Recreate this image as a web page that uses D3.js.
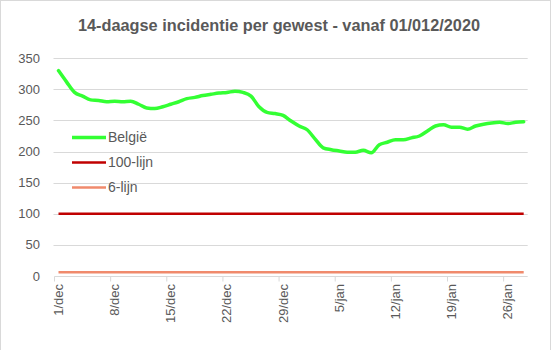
<!DOCTYPE html>
<html><head><meta charset="utf-8">
<script src="https://cdn.jsdelivr.net/npm/d3@7"></script>
<style>
html,body{margin:0;padding:0;background:#fff;}
svg{display:block;font-family:"Liberation Sans",Arial,sans-serif;}
</style></head>
<body>
<script>
const title = "14-daagse incidentie per gewest - vanaf 01/012/2020";
const months = ["dec","jan"];
const startDays = [1, 1];
const monthLengths = [31, 28];
const belgie = [330,312,295,289,283,282,280,281,280,281,
                276,270,269,272,276,280,285,287,290,292,
                294,295,297,295,289,272,263,261,258,249,
                241,235,220,206,203,201,199,199,202,198,
                211,215,219,219,222,225,233,241,243,239,
                239,236,241,244,246,247,245,247,248];
const lijn100 = 100;
const lijn6 = 6;
const seriesNames = ["België","100-lijn","6-lijn"];
const yTicks = [0,50,100,150,200,250,300,350];

// build category labels
const categories = [];
months.forEach((m,mi)=>{ for(let d=startDays[mi]; d<startDays[mi]+monthLengths[mi]; d++) categories.push(d+"/"+m); });

const W=557,H=350;
const svg=d3.select("body").append("svg").attr("width",W).attr("height",H);
svg.append("rect").attr("x",0.5).attr("y",0.5).attr("width",550).attr("height",360)
  .attr("fill","#fff").attr("stroke","#d9d9d9");

const pLeft=54.5,pRight=527.7,pTop=58.2,pBottom=276;
const x=d3.scaleBand().domain(categories).range([pLeft,pRight]).paddingInner(0).paddingOuter(0);
const y=d3.scaleLinear().domain([0,350]).range([pBottom,pTop]);

// gridlines
svg.append("g").selectAll("line").data(yTicks.filter(t=>t>0)).join("line")
  .attr("x1",pLeft-1).attr("x2",pRight).attr("y1",d=>Math.round(y(d))+0.5).attr("y2",d=>Math.round(y(d))+0.5)
  .attr("stroke","#d9d9d9").attr("stroke-width",1);

// y labels
svg.append("g").selectAll("text").data(yTicks).join("text")
  .attr("x",40).attr("y",d=>y(d)).attr("dy","0.35em").attr("text-anchor","end")
  .attr("font-size",13).attr("fill","#595959").text(d=>d);

// x axis line + ticks
const labelCats = categories.filter((c,i)=>i%7===0);
const xAxis=d3.axisBottom(x).tickValues(labelCats).tickSize(5).tickFormat(()=> "");
const gx=svg.append("g").attr("transform",`translate(0,${Math.round(pBottom)+0.5})`).call(xAxis);
gx.select(".domain").attr("stroke","#d9d9d9").attr("d",`M${pLeft},0H${pRight}`);
gx.selectAll(".tick line").attr("stroke","#d9d9d9").attr("transform",`translate(${-x.bandwidth()/2},0)`);
// x labels
svg.append("g").selectAll("text").data(labelCats).join("text")
  .attr("transform",d=>`translate(${x(d)+x.bandwidth()/2+4.5},${pBottom+8}) rotate(-90)`)
  .attr("text-anchor","end").attr("font-size",13).attr("fill","#595959").text(d=>d);

const cx=d=>x(d)+x.bandwidth()/2;

// 6-lijn
svg.append("line").attr("x1",cx(categories[0])).attr("x2",cx(categories[categories.length-1]))
  .attr("y1",y(lijn6)).attr("y2",y(lijn6)).attr("stroke","#f08a6c").attr("stroke-width",2.5);
// 100-lijn
svg.append("line").attr("x1",cx(categories[0])).attr("x2",cx(categories[categories.length-1]))
  .attr("y1",y(lijn100)).attr("y2",y(lijn100)).attr("stroke","#c00000").attr("stroke-width",2.5);
// België
const line=d3.line().x((d,i)=>cx(categories[i])).y(d=>y(d)).curve(d3.curveMonotoneX);
svg.append("path").datum(belgie).attr("d",line).attr("fill","none")
  .attr("stroke","#33ff33").attr("stroke-width",3.5).attr("stroke-linejoin","round").attr("stroke-linecap","round");

// title
svg.append("text").attr("x",279).attr("y",30.5).attr("text-anchor","middle")
  .attr("font-size",16).attr("font-weight","bold").attr("fill","#595959")
  .attr("textLength",402).attr("lengthAdjust","spacingAndGlyphs").text(title);

// legend
const legColors=["#33ff33","#c00000","#f08a6c"];
const legW=[3.5,2.5,2.5];
const leg=svg.append("g");
seriesNames.forEach((n,i)=>{
  const yy=137.5+i*25;
  leg.append("line").attr("x1",72).attr("x2",106).attr("y1",yy).attr("y2",yy)
    .attr("stroke",legColors[i]).attr("stroke-width",legW[i]);
  leg.append("text").attr("x",108).attr("y",yy).attr("dy","0.35em")
    .attr("font-size",14).attr("fill","#595959").text(n);
});
</script>
</body></html>
